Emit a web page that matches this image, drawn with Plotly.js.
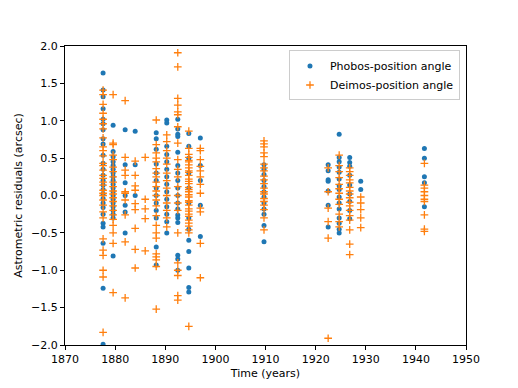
<!DOCTYPE html>
<html>
<head>
<meta charset="utf-8">
<script src="https://cdn.plot.ly/plotly-3.0.1.min.js"></script>
<style>
  body { margin: 0; background: #fff; }
  #chart { width: 518px; height: 388px; }
</style>
</head>
<body>
<div id="chart"></div>
<script>
// observation epochs (years)
const epochs = [1877.6, 1879.6, 1882.0, 1884.0, 1886.0, 1888.2, 1890.3, 1892.5,
                1894.7, 1897.0, 1909.7, 1922.5, 1924.7, 1926.8, 1929.0, 1941.7];

// residuals per epoch (arcsec)
const phobosRes = [
  [1.64, 1.41, 1.32, 1.16, 1.02, 0.96, 0.88, 0.76, 0.69, 0.54, 0.43, 0.35, 0.27, 0.2, 0.14, 0.08, 0.02, -0.04, -0.1, -0.16, -0.25, -0.37, -0.42, -0.64, -1.24, -1.99],
  [0.94, 0.59, 0.52, 0.45, 0.4, 0.35, 0.3, 0.25, 0.2, 0.15, 0.1, 0.05, 0.0, -0.05, -0.1, -0.15, -0.2, -0.25, -0.3, -0.81],
  [0.88, 0.41, 0.17, 0.0, -0.13, -0.22, -0.5],
  [0.86, 0.41, 0.0],
  [],
  [0.84, 0.76, 0.62, 0.42, 0.3, 0.2, 0.1, 0.0, -0.1, -0.2, -0.3, -0.69, -0.93],
  [1.01, 0.97, 0.66, 0.55, 0.45, 0.35, 0.25, 0.15, 0.05, -0.05, -0.15, -0.25, -0.35, -0.5],
  [1.02, 0.89, 0.82, 0.79, 0.58, 0.4, 0.3, 0.2, 0.1, 0.0, -0.1, -0.18, -0.26, -0.3, -0.36, -0.8, -0.85, -1.0],
  [0.83, 0.66, 0.5, 0.3, 0.1, -0.1, -0.3, -0.45, -0.6, -0.75, -0.97, -1.23, -1.29],
  [0.77, 0.4, 0.2, -0.13, -0.55],
  [0.41, 0.35, 0.28, 0.2, 0.12, 0.05, -0.02, -0.1, -0.18, -0.25, -0.4, -0.62],
  [0.41, 0.33, 0.21, 0.19, 0.06, -0.13, -0.42],
  [0.82, 0.51, 0.45, 0.38, 0.31, 0.22, 0.13, 0.08, -0.02, -0.1, -0.18, -0.3, -0.37, -0.45, -0.5],
  [0.51, 0.44, 0.39, 0.27, 0.14, 0.02, -0.08, -0.2, -0.31],
  [0.19, 0.08],
  [0.63, 0.5, 0.25, 0.17, -0.15]
];

const deimosRes = [
  [1.41, 1.35, 1.22, 1.1, 1.02, 0.96, 0.89, 0.77, 0.65, 0.6, 0.53, 0.43, 0.4, 0.34, 0.27, 0.23, 0.18, 0.14, 0.07, 0.03, 0.0, -0.06, -0.13, -0.22, -0.3, -0.58, -0.73, -0.8, -1.0, -1.09, -1.83],
  [1.35, 0.7, 0.68, 0.54, 0.48, 0.38, 0.32, 0.25, 0.18, 0.12, 0.06, 0.02, -0.03, -0.08, -0.14, -0.2, -0.26, -0.32, -0.4, -0.5, -0.64, -1.3],
  [1.27, 0.51, 0.34, 0.27, 0.05, 0.03, -0.06, -0.26, -0.62, -1.37],
  [0.46, 0.27, 0.13, 0.07, -0.11, -0.19, -0.44, -0.72, -0.97],
  [0.51, -0.05, -0.18, -0.31, -0.74],
  [1.01, 0.68, 0.57, 0.5, 0.45, 0.36, 0.3, 0.25, 0.18, 0.12, 0.06, 0.0, -0.06, -0.14, -0.27, -0.4, -0.5, -0.57, -0.78, -0.82, -0.86, -0.95, -1.52],
  [0.81, 0.72, 0.6, 0.5, 0.42, 0.3, 0.2, 0.1, 0.0, -0.1, -0.2, -0.3, -0.42],
  [1.91, 1.72, 1.3, 1.21, 1.12, 1.08, 0.92, 0.7, 0.48, 0.35, 0.25, 0.12, 0.0, -0.1, -0.2, -0.5, -0.9, -1.0, -1.07, -1.34, -1.4],
  [0.86, 0.63, 0.55, 0.51, 0.47, 0.45, 0.41, 0.37, 0.33, 0.31, 0.27, 0.22, 0.19, 0.16, 0.11, 0.08, 0.05, 0.01, -0.02, -0.07, -0.09, -0.13, -0.18, -0.21, -0.25, -0.28, -0.33, -0.37, -0.41, -0.46, -0.5, -1.75],
  [0.63, 0.6, 0.48, 0.39, 0.33, 0.25, 0.15, 0.03, -0.17, -0.22, -0.64, -1.1],
  [0.73, 0.69, 0.65, 0.57, 0.52, 0.42, 0.37, 0.33, 0.26, 0.21, 0.16, 0.1, 0.05, 0.02, -0.04, -0.08, -0.13, -0.19, -0.3, -0.46],
  [0.37, 0.05, -0.17, -0.35, -0.57, -1.91],
  [0.54, 0.4, 0.32, 0.24, 0.15, 0.09, 0.03, -0.05, -0.12, -0.25, -0.35, -0.42],
  [0.37, 0.32, 0.27, 0.21, 0.17, 0.11, 0.06, 0.02, -0.03, -0.09, -0.14, -0.2, -0.27, -0.33, -0.46, -0.65, -0.79],
  [-0.02, -0.1, -0.19, -0.3, -0.43],
  [0.43, 0.14, 0.1, 0.05, 0.0, -0.05, -0.08, -0.26, -0.45, -0.48]
];

// flatten epoch/residual lists into x/y
function flatten(res) {
  var x = [], y = [];
  res.forEach(function (list, i) {
    list.forEach(function (v) { x.push(epochs[i]); y.push(v); });
  });
  return { x: x, y: y };
}

var ph = flatten(phobosRes);
var de = flatten(deimosRes);

var data = [
  {
    x: ph.x, y: ph.y,
    mode: "markers", type: "scatter",
    name: "Phobos-position angle",
    marker: { color: "#1f77b4", size: 5, symbol: "circle" }
  },
  {
    x: de.x, y: de.y,
    mode: "markers", type: "scatter",
    name: "Deimos-position angle",
    marker: { color: "#ff7f0e", size: 5.5, symbol: "cross-thin-open",
              line: { color: "#ff7f0e", width: 1.3 } }
  }
];

var axisStyle = {
  showgrid: false, zeroline: false,
  showline: true, mirror: true, linecolor: "#000", linewidth: 1,
  ticks: "outside", ticklen: 4, tickwidth: 1, tickcolor: "#000",
  tickfont: { size: 11, color: "#000" }
};

var layout = {
  width: 518, height: 388,
  margin: { l: 65, r: 52, t: 46, b: 43 },
  paper_bgcolor: "#fff", plot_bgcolor: "#fff",
  font: { family: "DejaVu Sans, sans-serif", size: 11, color: "#000" },
  xaxis: Object.assign({}, axisStyle, {
    range: [1870, 1950], dtick: 10, tick0: 1870,
    title: { text: "Time (years)", font: { size: 11 }, standoff: 4 }
  }),
  yaxis: Object.assign({}, axisStyle, {
    range: [-2, 2], dtick: 0.5, tickformat: ".1f",
    title: { text: "Astrometric residuals (arcsec)", font: { size: 11 }, standoff: 6 }
  }),
  showlegend: true,
  legend: {
    x: 0.985, y: 0.985, xanchor: "right", yanchor: "top",
    bgcolor: "rgba(255,255,255,0.8)", bordercolor: "#cccccc", borderwidth: 1,
    font: { size: 11 }, tracegroupgap: 0
  }
};

Plotly.newPlot("chart", data, layout, { displayModeBar: false, staticPlot: true });
</script>
</body>
</html>
